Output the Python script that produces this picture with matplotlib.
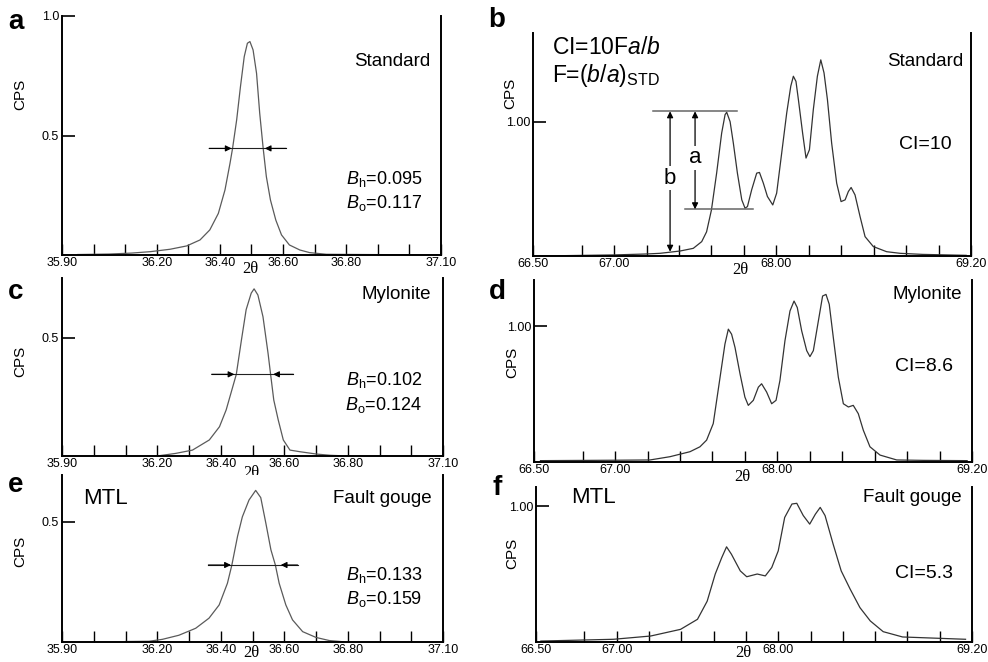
import numpy as np
import matplotlib.pyplot as plt
from matplotlib.ticker import FixedLocator

plt.rcParams['font.family'] = ['Liberation Sans', 'DejaVu Sans']
plt.rcParams['mathtext.fontset'] = 'custom'
plt.rcParams['mathtext.rm'] = 'Liberation Sans'
plt.rcParams['mathtext.it'] = 'Liberation Sans:italic'

# ---- data (2theta in degrees, CPS normalised) ----
# a : standard, 36.5 peak
a_x = [35.95, 36.05, 36.12, 36.18, 36.242, 36.295, 36.337, 36.368, 36.395, 36.416,
       36.432, 36.44, 36.453, 36.465, 36.477, 36.487, 36.495, 36.505, 36.516, 36.526,
       36.537, 36.547, 36.56, 36.577, 36.595, 36.62, 36.653, 36.684, 36.737, 36.85,
       37.0, 37.09]
a_y = [0.002, 0.004, 0.008, 0.014, 0.024, 0.038, 0.063, 0.105, 0.174, 0.272,
       0.384, 0.446, 0.565, 0.704, 0.83, 0.886, 0.893, 0.858, 0.76, 0.593,
       0.446, 0.328, 0.23, 0.146, 0.084, 0.042, 0.021, 0.01, 0.003, 0.002,
       0.001, 0.001]
# c : mylonite
c_x = [36.205, 36.258, 36.311, 36.364, 36.396, 36.417, 36.438, 36.449, 36.465, 36.48,
       36.496, 36.505, 36.517, 36.533, 36.549, 36.557, 36.567, 36.581, 36.597, 36.618,
       36.65, 36.703, 36.745, 36.78]
c_y = [0.001, 0.011, 0.025, 0.068, 0.124, 0.195, 0.294, 0.346, 0.49, 0.62,
       0.69, 0.708, 0.682, 0.59, 0.435, 0.346, 0.237, 0.153, 0.068, 0.025,
       0.018, 0.008, 0.003, 0.001]
# e : MTL fault gouge
e_x = [36.10, 36.174, 36.216, 36.268, 36.321, 36.363, 36.395, 36.421, 36.435, 36.453,
       36.468, 36.489, 36.51, 36.526, 36.542, 36.558, 36.572, 36.584, 36.605, 36.626,
       36.658, 36.70, 36.742, 36.786]
e_y = [0.002, 0.003, 0.011, 0.028, 0.057, 0.099, 0.154, 0.244, 0.32, 0.44,
       0.52, 0.59, 0.63, 0.60, 0.494, 0.383, 0.32, 0.244, 0.154, 0.092,
       0.043, 0.019, 0.006, 0.001]

# b : standard, quintuplet 67-69
b_x = [66.54, 67.0, 67.2, 67.283, 67.406, 67.488, 67.54, 67.57, 67.60, 67.632,
       67.663, 67.684, 67.694, 67.715, 67.735, 67.76, 67.787, 67.807, 67.822, 67.848,
       67.879, 67.896, 67.92, 67.945, 67.978, 68.002, 68.033, 68.064, 68.089, 68.105,
       68.121, 68.136, 68.162, 68.183, 68.204, 68.228, 68.253, 68.274, 68.294, 68.315,
       68.341, 68.372, 68.399, 68.424, 68.444, 68.461, 68.485, 68.516, 68.547, 68.598,
       68.68, 68.763, 68.9, 69.17]
b_y = [0.0, 0.008, 0.015, 0.02, 0.037, 0.057, 0.107, 0.18, 0.343, 0.617,
       0.915, 1.052, 1.07, 1.0, 0.84, 0.617, 0.418, 0.356, 0.368, 0.493,
       0.617, 0.622, 0.542, 0.443, 0.38, 0.468, 0.766, 1.065, 1.264, 1.338,
       1.30, 1.164, 0.915, 0.729, 0.791, 1.09, 1.338, 1.46, 1.363, 1.164,
       0.84, 0.542, 0.405, 0.418, 0.48, 0.51, 0.455, 0.294, 0.144, 0.07,
       0.032, 0.02, 0.012, 0.005]
# d : mylonite
d_x = [66.54, 67.0, 67.215, 67.338, 67.462, 67.523, 67.564, 67.605, 67.647, 67.677,
       67.698, 67.718, 67.739, 67.77, 67.80, 67.821, 67.852, 67.883, 67.903, 67.934,
       67.965, 67.992, 68.016, 68.047, 68.078, 68.103, 68.123, 68.15, 68.181, 68.201,
       68.222, 68.253, 68.279, 68.30, 68.32, 68.345, 68.376, 68.407, 68.438, 68.468,
       68.499, 68.53, 68.571, 68.633, 68.736, 68.9, 69.17]
d_y = [0.01, 0.013, 0.015, 0.039, 0.076, 0.112, 0.161, 0.283, 0.624, 0.868,
       0.978, 0.941, 0.844, 0.649, 0.478, 0.417, 0.454, 0.551, 0.576, 0.515,
       0.429, 0.454, 0.60, 0.893, 1.112, 1.185, 1.137, 0.966, 0.82, 0.776,
       0.82, 1.039, 1.222, 1.234, 1.161, 0.917, 0.624, 0.429, 0.405, 0.417,
       0.356, 0.234, 0.112, 0.051, 0.015, 0.012, 0.01]
# f : MTL fault gouge
f_x = [66.53, 66.98, 67.21, 67.395, 67.50, 67.56, 67.61, 67.65, 67.68, 67.71,
       67.765, 67.805, 67.87, 67.92, 67.96, 68.00, 68.04, 68.085, 68.115, 68.155,
       68.195, 68.23, 68.26, 68.29, 68.34, 68.39, 68.445, 68.506, 68.57, 68.65,
       68.77, 69.16]
f_y = [0.007, 0.02, 0.044, 0.093, 0.167, 0.30, 0.50, 0.62, 0.70, 0.646,
       0.523, 0.48, 0.50, 0.486, 0.548, 0.67, 0.916, 1.015, 1.02, 0.93,
       0.867, 0.94, 0.99, 0.93, 0.72, 0.523, 0.39, 0.253, 0.155, 0.076,
       0.037, 0.02]

# half-width markers: line start, left tip, right tip, line end, height
a_fw = [36.366, 36.437, 36.542, 36.61, 0.446]
c_fw = [36.371, 36.443, 36.565, 36.629, 0.346]
e_fw = [36.361, 36.432, 36.589, 36.642, 0.32]

# construction lines in b
b_top = [67.24, 67.756, 1.077]
b_low = [67.437, 67.858, 0.348]
b_arrow_x = 67.345
b_base = 0.032
a_arrow_x = 67.499

left_ticks = [35.9, 36.2, 36.4, 36.6, 36.8, 37.1]
left_labels = ['35.90', '36.20', '36.40', '36.60', '36.80', '37.10']
right_ticks = [66.5, 67.0, 68.0, 69.2]
right_labels = ['66.50', '67.00', '68.00', '69.20']

fig = plt.figure(figsize=(9.88, 6.62), dpi=100)


def add_ax(l, t, r, b):
    return fig.add_axes([l / 988, 1 - b / 662, (r - l) / 988, (b - t) / 662])


def style(ax, left):
    ax.spines['top'].set_visible(False)
    for s in ['left', 'right', 'bottom']:
        ax.spines[s].set_linewidth(1.4)
    if left:
        ax.set_xlim(35.9, 37.1)
        ax.set_xticks(left_ticks)
        ax.set_xticklabels(left_labels)
        ax.xaxis.set_minor_locator(FixedLocator(np.round(np.arange(36.0, 37.01, 0.1), 2)))
    else:
        ax.set_xlim(66.5, 69.2)
        ax.set_xticks(right_ticks)
        ax.set_xticklabels(right_labels)
        ax.xaxis.set_minor_locator(FixedLocator(np.round(np.arange(66.8, 69.01, 0.2), 2)))
    ax.tick_params(axis='x', which='both', direction='in', length=8, width=1,
                   labelsize=9, pad=1.5)
    ax.tick_params(axis='y', which='both', direction='in', length=9, width=1.2,
                   labelsize=9, pad=2)
    ax.set_ylabel('CPS', fontsize=11)


def fwhm(ax, fw):
    x0, t1, t2, x1, h = fw
    ax.plot([x0, x1], [h, h], color='#222222', lw=0.8)
    kw = dict(arrowstyle='-|>', color='black', lw=0.8, mutation_scale=9,
              shrinkA=0, shrinkB=0)
    ax.annotate('', xy=(t1, h), xytext=(x0, h), arrowprops=kw)
    ax.annotate('', xy=(t2, h), xytext=(x1, h), arrowprops=kw)


def twotheta(ax, x, y):
    ax.text(x, y, '2θ', transform=ax.transAxes, ha='center', va='center',
            fontsize=12, family=['Liberation Serif', 'DejaVu Serif'])


ax_a = add_ax(62, 16, 441, 255)
ax_b = add_ax(533, 33, 971, 256)
ax_c = add_ax(62, 278, 443, 456)
ax_d = add_ax(534, 280, 972, 462)
ax_e = add_ax(62, 475, 443, 642)
ax_f = add_ax(536, 487, 972, 642)

peak_col = '#5a5a5a'
trace_col = '#333333'

# ---- a ----
ax_a.plot(a_x, a_y, color=peak_col, lw=0.9)
style(ax_a, True)
ax_a.set_ylim(0, 1.0)
ax_a.set_yticks([0.5, 1.0])
ax_a.set_yticklabels(['0.5', '1.0'])
ax_a.yaxis.set_label_coords(-0.092, 0.67)
fwhm(ax_a, a_fw)
ax_a.text(0.971, 0.808, 'Standard', transform=ax_a.transAxes, ha='right', va='center', fontsize=13.5)
ax_a.text(0.95, 0.318, r'$B_\mathrm{h}$=0.095', transform=ax_a.transAxes, ha='right', va='center', fontsize=13)
ax_a.text(0.95, 0.218, r'$B_\mathrm{o}$=0.117', transform=ax_a.transAxes, ha='right', va='center', fontsize=13)
twotheta(ax_a, 0.496, -0.059)

# ---- b ----
ax_b.plot(b_x, b_y, color=trace_col, lw=0.9)
style(ax_b, False)
ax_b.set_ylim(0, 1.66)
ax_b.set_yticks([1.0])
ax_b.set_yticklabels(['1.00'])
ax_b.yaxis.set_label_coords(-0.037, 0.73)
ax_b.plot(b_top[:2], [b_top[2]] * 2, color='#666666', lw=1.1)
ax_b.plot(b_low[:2], [b_low[2]] * 2, color='#666666', lw=1.1)
dkw = dict(arrowstyle='<|-|>', color='black', lw=0.9, mutation_scale=9, shrinkA=0, shrinkB=0)
ax_b.annotate('', xy=(b_arrow_x, b_base), xytext=(b_arrow_x, b_top[2]), arrowprops=dkw)
ax_b.annotate('', xy=(a_arrow_x, b_low[2]), xytext=(a_arrow_x, b_top[2]), arrowprops=dkw)
ax_b.text(b_arrow_x, 0.58, 'b', ha='center', va='center', fontsize=16,
          bbox=dict(facecolor='white', edgecolor='none', pad=1))
ax_b.text(a_arrow_x, 0.73, 'a', ha='center', va='center', fontsize=16,
          bbox=dict(facecolor='white', edgecolor='none', pad=1))
ax_b.text(0.043, 0.906, r'CI=10F$a/b$', transform=ax_b.transAxes, ha='left', va='baseline', fontsize=16.5)
ax_b.text(0.043, 0.78, r'F=($b$/$a$)$_\mathrm{STD}$', transform=ax_b.transAxes, ha='left', va='baseline', fontsize=16.5)
ax_b.text(0.982, 0.87, 'Standard', transform=ax_b.transAxes, ha='right', va='center', fontsize=13.5)
ax_b.text(0.895, 0.498, 'CI=10', transform=ax_b.transAxes, ha='center', va='center', fontsize=14)
twotheta(ax_b, 0.473, -0.063)

# ---- c ----
ax_c.plot(c_x, c_y, color=peak_col, lw=0.9)
style(ax_c, True)
ax_c.set_ylim(0, 0.754)
ax_c.set_yticks([0.5])
ax_c.set_yticklabels(['0.5'])
ax_c.yaxis.set_label_coords(-0.092, 0.53)
fwhm(ax_c, c_fw)
ax_c.text(0.969, 0.91, 'Mylonite', transform=ax_c.transAxes, ha='right', va='center', fontsize=13.5)
ax_c.text(0.945, 0.427, r'$B_\mathrm{h}$=0.102', transform=ax_c.transAxes, ha='right', va='center', fontsize=13)
ax_c.text(0.945, 0.287, r'$B_\mathrm{o}$=0.124', transform=ax_c.transAxes, ha='right', va='center', fontsize=13)
twotheta(ax_c, 0.496, -0.096)

# ---- d ----
ax_d.plot(d_x, d_y, color=trace_col, lw=0.9)
style(ax_d, False)
ax_d.set_ylim(0, 1.34)
ax_d.set_yticks([1.0])
ax_d.set_yticklabels(['1.00'])
ax_d.yaxis.set_label_coords(-0.034, 0.55)
ax_d.text(0.977, 0.923, 'Mylonite', transform=ax_d.transAxes, ha='right', va='center', fontsize=13.5)
ax_d.text(0.89, 0.522, 'CI=8.6', transform=ax_d.transAxes, ha='center', va='center', fontsize=14)
twotheta(ax_d, 0.475, -0.082)

# ---- e ----
ax_e.plot(e_x, e_y, color=peak_col, lw=0.9)
style(ax_e, True)
ax_e.set_ylim(0, 0.694)
ax_e.set_yticks([0.5])
ax_e.set_yticklabels(['0.5'])
ax_e.yaxis.set_label_coords(-0.092, 0.545)
fwhm(ax_e, e_fw)
ax_e.text(0.055, 0.862, 'MTL', transform=ax_e.transAxes, ha='left', va='center', fontsize=16)
ax_e.text(0.969, 0.862, 'Fault gouge', transform=ax_e.transAxes, ha='right', va='center', fontsize=13.5)
ax_e.text(0.945, 0.40, r'$B_\mathrm{h}$=0.133', transform=ax_e.transAxes, ha='right', va='center', fontsize=13)
ax_e.text(0.945, 0.257, r'$B_\mathrm{o}$=0.159', transform=ax_e.transAxes, ha='right', va='center', fontsize=13)
twotheta(ax_e, 0.496, -0.068)

# ---- f ----
ax_f.plot(f_x, f_y, color=trace_col, lw=0.9)
style(ax_f, False)
ax_f.set_ylim(0, 1.14)
ax_f.set_yticks([1.0])
ax_f.set_yticklabels(['1.00'])
ax_f.yaxis.set_label_coords(-0.039, 0.574)
ax_f.text(0.08, 0.935, 'MTL', transform=ax_f.transAxes, ha='left', va='center', fontsize=16)
ax_f.text(0.977, 0.935, 'Fault gouge', transform=ax_f.transAxes, ha='right', va='center', fontsize=13.5)
ax_f.text(0.89, 0.445, 'CI=5.3', transform=ax_f.transAxes, ha='center', va='center', fontsize=14)
twotheta(ax_f, 0.475, -0.068)

# panel letters
for lab, px, py in [('a', 16, 22), ('b', 497, 20), ('c', 16, 292),
                    ('d', 497, 292), ('e', 16, 485), ('f', 497, 488)]:
    fig.text(px / 988, 1 - py / 662, lab, ha='center', va='center',
             fontsize=20, fontweight='bold')

fig.savefig('out.png', dpi=100)
